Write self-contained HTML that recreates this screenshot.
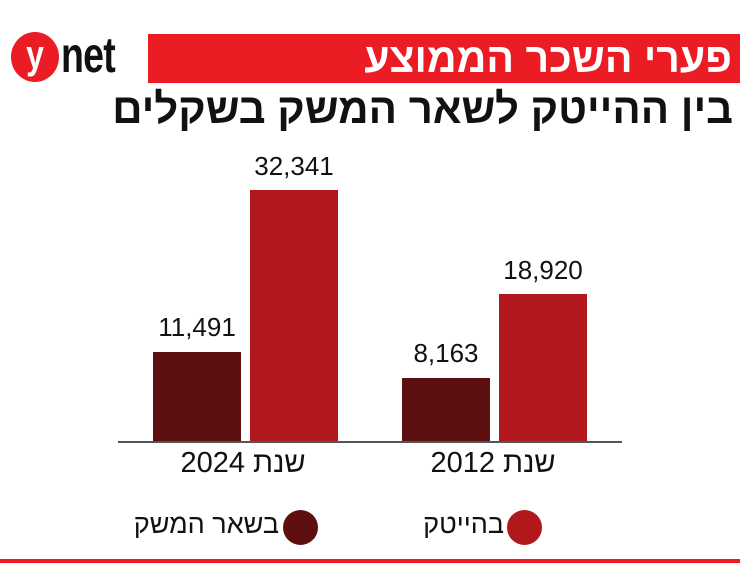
<!DOCTYPE html>
<html><head><meta charset="utf-8"><style>
body{margin:0;width:740px;height:563px;background:#fff;position:relative;overflow:hidden;font-family:"Liberation Sans","Noto Sans CJK JP",sans-serif}
.a{position:absolute}
.v{position:absolute;font-size:26px;color:#111;text-align:center;width:120px}
</style></head><body>
<div class="a" style="left:11px;top:32px;width:48px;height:50px;border-radius:50%;background:#ec1c24"></div>
<div class="a" style="left:11px;top:30px;width:48px;text-align:center;color:#fff;font-size:40px;font-weight:bold;line-height:50px;transform:scaleX(0.8)">y</div>
<div class="a" style="left:61px;top:27px;font-size:50px;font-weight:bold;color:#111;line-height:56px;letter-spacing:-1px;transform:scaleX(0.75);transform-origin:left">net</div>
<div class="a" style="left:148px;top:34px;width:592px;height:49px;background:#ec1c24"></div>
<div class="a" dir="rtl" style="right:8px;top:32px;color:#fff;font-size:41px;font-weight:bold;line-height:52px">פערי השכר הממוצע</div>
<div class="a" dir="rtl" style="right:7px;top:83px;color:#111;font-size:42px;font-weight:bold;line-height:52px">בין ההייטק לשאר המשק בשקלים</div>
<div class="a" style="left:118px;top:441px;width:504px;height:2px;background:#555"></div>
<div class="a" style="left:153px;top:352px;width:88px;height:89px;background:#5e0f0f"></div>
<div class="a" style="left:250px;top:190px;width:88px;height:251px;background:#b1181b"></div>
<div class="a" style="left:402px;top:378px;width:88px;height:63px;background:#5e0f0f"></div>
<div class="a" style="left:499px;top:294px;width:88px;height:147px;background:#b1181b"></div>
<div class="v" style="left:137px;top:312px">11,491</div>
<div class="v" style="left:234px;top:151px">32,341</div>
<div class="v" style="left:386px;top:338px">8,163</div>
<div class="v" style="left:483px;top:255px">18,920</div>
<div class="a" dir="rtl" style="left:143px;width:200px;text-align:center;top:447px;font-size:29px;color:#111">שנת 2024</div>
<div class="a" dir="rtl" style="left:393px;width:200px;text-align:center;top:447px;font-size:29px;color:#111">שנת 2012</div>
<div class="a" style="left:283px;top:510px;width:35px;height:35px;border-radius:50%;background:#5e0f0f"></div>
<div class="a" style="left:507px;top:510px;width:35px;height:35px;border-radius:50%;background:#b1181b"></div>
<div class="a" dir="rtl" style="right:461px;top:509px;font-size:27px;color:#111">בשאר המשק</div>
<div class="a" dir="rtl" style="right:236px;top:509px;font-size:27px;color:#111">בהייטק</div>
<div class="a" style="left:0;top:559px;width:740px;height:4px;background:#ec1c24"></div>
</body></html>
